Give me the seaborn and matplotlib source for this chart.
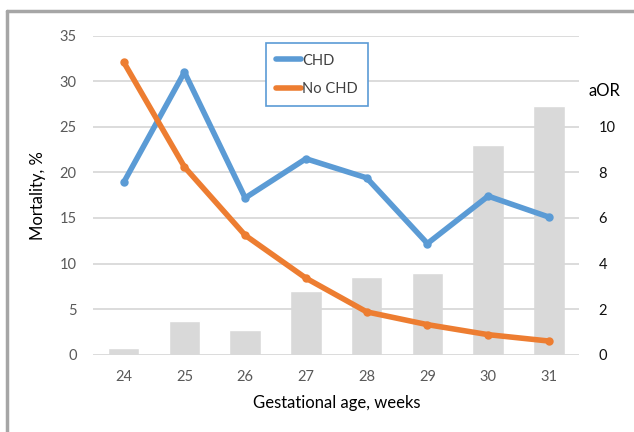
import pandas as pd
import matplotlib.pyplot as plt
import seaborn as sns
from matplotlib.lines import Line2D

weeks = ["24", "25", "26", "27", "28", "29", "30", "31"]
chd_mortality = [18.9, 31.0, 17.2, 21.5, 19.4, 12.2, 17.4, 15.1]
no_chd_mortality = [32.1, 20.6, 13.1, 8.4, 4.7, 3.3, 2.2, 1.5]
aor = [0.3, 1.5, 1.1, 2.8, 3.4, 3.6, 9.2, 10.9]

BLUE = "#5b9bd5"
ORANGE = "#ed7d31"
GREY = "#d9d9d9"


def main():
    sns.set_theme(style="white")
    plt.rcParams["font.family"] = ["Lato", "DejaVu Sans"]

    lines = pd.DataFrame({
        "week": weeks * 2,
        "mortality": chd_mortality + no_chd_mortality,
        "group": ["CHD"] * len(weeks) + ["No CHD"] * len(weeks),
    })
    bars = pd.DataFrame({"week": weeks, "aor": aor})

    fig = plt.figure(figsize=(6.34, 4.32), dpi=100)
    ax = fig.add_axes([0.1472, 0.1789, 0.7665, 0.7385])
    ax2 = ax.twinx()

    sns.barplot(data=bars, x="week", y="aor", color=GREY, saturation=1,
                width=0.52, ax=ax2, order=weeks)
    sns.pointplot(data=lines, x="week", y="mortality", hue="group",
                  palette={"CHD": BLUE, "No CHD": ORANGE}, order=weeks,
                  markers="o", ax=ax, legend=False)
    for ln in ax.lines:
        ln.set_linewidth(4.0)
        ln.set_markersize(4)
        ln.set_solid_joinstyle("round")
        ln.set_solid_capstyle("round")

    ax.set_zorder(ax2.get_zorder() + 1)
    ax.patch.set_visible(False)

    ax.set_xlim(-0.5, 7.5)
    ax.set_ylim(0, 35)
    ax.set_yticks(range(0, 36, 5))
    ax2.set_ylim(0, 14)
    ax2.set_yticks(range(0, 11, 2))

    ax2.yaxis.grid(False)
    ax.yaxis.grid(True, color=GREY, lw=1.3)
    ax.set_axisbelow(True)
    for a in (ax, ax2):
        for s in a.spines.values():
            s.set_visible(False)

    ax.tick_params(axis="y", length=0, pad=12, labelsize=10.5, labelcolor="#595959")
    ax.tick_params(axis="x", length=0, pad=11, labelsize=10.5, labelcolor="#595959")
    ax2.tick_params(axis="y", length=0, pad=14, labelsize=10.5, labelcolor="#111111")

    ax.set_xlabel("Gestational age, weeks", fontsize=12, color="black", labelpad=8)
    ax.set_ylabel("Mortality, %", fontsize=12, color="black", labelpad=10)
    ax2.set_ylabel("")
    ax2.set_xlabel("")
    fig.text(0.929, 0.79, "aOR", fontsize=12, color="black", va="center")

    handles = [Line2D([], [], color=BLUE, lw=4.0, solid_capstyle="round"),
               Line2D([], [], color=ORANGE, lw=4.0, solid_capstyle="round")]
    leg = ax.legend(handles, ["CHD", "No CHD"], loc="upper left",
                    bbox_to_anchor=(265.7 / 634, 1 - 43.3 / 432),
                    bbox_transform=fig.transFigure, fontsize=10.5,
                    handlelength=1.7, handletextpad=0.1, labelspacing=1.0,
                    borderpad=0.7, borderaxespad=0, fancybox=False,
                    framealpha=1, edgecolor=BLUE, labelcolor="#404040")
    leg.get_frame().set_linewidth(1.2)

    # outer frame of the figure
    fig.add_artist(Line2D([0.011, 1.0], [0.975, 0.975], color="#a6a6a6",
                          lw=2.5, transform=fig.transFigure))
    fig.add_artist(Line2D([0.011, 0.011], [0.0, 0.975], color="#a6a6a6",
                          lw=2.5, transform=fig.transFigure))

    fig.savefig("out.png", dpi=100)


if __name__ == "__main__":
    main()
